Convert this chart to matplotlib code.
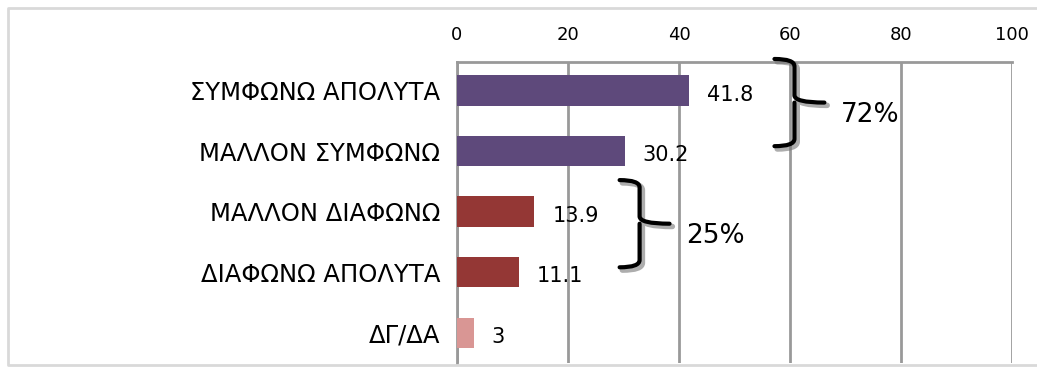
import matplotlib.pyplot as plt
from matplotlib.path import Path
from matplotlib.patches import PathPatch
from matplotlib.lines import Line2D
import matplotlib.transforms as mtransforms

plt.rcParams['font.family'] = ['DejaVu Sans']

categories = ['ΣΥΜΦΩΝΩ ΑΠΟΛΥΤΑ', 'ΜΑΛΛΟΝ ΣΥΜΦΩΝΩ', 'ΜΑΛΛΟΝ ΔΙΑΦΩΝΩ', 'ΔΙΑΦΩΝΩ ΑΠΟΛΥΤΑ', 'ΔΓ/ΔΑ']
values = [41.8, 30.2, 13.9, 11.1, 3]
colors = ['#5e497b', '#5e497b', '#943735', '#943735', '#d99694']
groups = [(0, 1), (2, 3)]   # bars joined by a brace
xticks = [0, 20, 40, 60, 80, 100]

fig = plt.figure(figsize=(10.37, 3.72), dpi=100)
# light frame around the chart: top, left and bottom only
fx0, fy0, fy1 = 8 / 1037, 7 / 372, 1 - 8 / 372
fig.lines.append(Line2D([1.0, fx0, fx0, 1.0], [fy1, fy1, fy0, fy0], transform=fig.transFigure,
                        color='#d9d9d9', linewidth=2))
ax = fig.add_axes([457 / 1037, 9 / 372, 555 / 1037, 301 / 372])

y = list(range(len(categories)))
ax.barh(y, values, height=0.5, color=colors, zorder=3)
ax.set_xlim(0, 100)
ax.set_ylim(4.5, -0.47)

ax.set_yticks(y)
ax.set_yticklabels(categories, fontsize=17.5)
ax.xaxis.tick_top()
ax.set_xticks(xticks)
ax.set_xticklabels([str(t) for t in xticks], fontsize=13)
ax.tick_params(axis='both', length=0)
ax.tick_params(axis='x', pad=13)
ax.tick_params(axis='y', pad=12)

ax.grid(axis='x', color='#999999', linewidth=2, zorder=0)
ax.grid(axis='y', visible=False)
for s in ['right', 'bottom']:
    ax.spines[s].set_visible(False)
for s in ['top', 'left']:
    ax.spines[s].set_color('#999999')
    ax.spines[s].set_linewidth(2)

# value labels
for yi, v in zip(y, values):
    ax.annotate(f'{v:g}', (v, yi), xytext=(13, -3), textcoords='offset points',
                va='center', ha='left', fontsize=15)

# braces with group sums
shadow_tr = mtransforms.offset_copy(ax.transData, fig=fig, x=2, y=-2, units='points')
for a, b in groups:
    x0 = max(values[a], values[b]) + 19
    top = a - 0.52
    bot = b - 0.08
    mid = (top + bot) / 2
    hw, tw, r = 3.6, 5.4, 0.12
    verts = [(x0 - hw, top), (x0, top), (x0, top + r),
             (x0, mid - r), (x0, mid), (x0 + tw, mid),
             (x0, mid), (x0, mid + r),
             (x0, bot - r), (x0, bot), (x0 - hw, bot)]
    codes = [Path.MOVETO, Path.CURVE3, Path.CURVE3,
             Path.LINETO, Path.CURVE3, Path.CURVE3,
             Path.MOVETO, Path.LINETO,
             Path.LINETO, Path.CURVE3, Path.CURVE3]
    brace = Path(verts, codes)
    ax.add_patch(PathPatch(brace, fill=False, edgecolor='#777777', alpha=0.6, linewidth=4,
                           capstyle='round', joinstyle='round', zorder=4, clip_on=False,
                           transform=shadow_tr))
    ax.add_patch(PathPatch(brace, fill=False, edgecolor='black', linewidth=3,
                           capstyle='round', joinstyle='round', zorder=5, clip_on=False))
    ax.text(x0 + tw + 3, mid + 0.2, f'{values[a] + values[b]:.0f}%', fontsize=19,
            va='center', ha='left', zorder=5)

fig.savefig('out.png', dpi=100)
